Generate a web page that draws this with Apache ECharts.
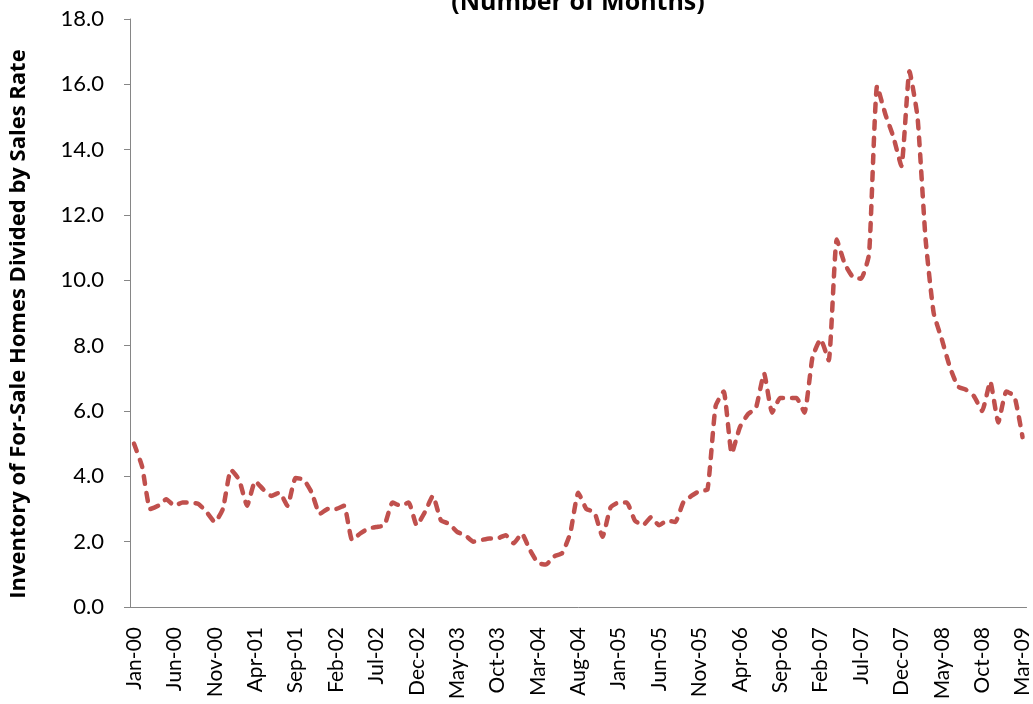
<!DOCTYPE html>
<html>
<head>
<meta charset="utf-8">
<script src="https://cdn.jsdelivr.net/npm/echarts@6/dist/echarts.min.js"></script>
<style>
  html, body { margin: 0; padding: 0; background: #fff; }
  #chart { width: 1033px; height: 704px; }
</style>
</head>
<body>
<div id="chart"></div>
<script>
// month labels, Jan-00 .. Mar-09
const monthNames = ['Jan', 'Feb', 'Mar', 'Apr', 'May', 'Jun', 'Jul', 'Aug', 'Sep', 'Oct', 'Nov', 'Dec']
const years = ['00', '01', '02', '03', '04', '05', '06', '07', '08', '09']
const lastYearMonths = 3 // 2009 stops at Mar

// months' supply (inventory / sales rate)
const monthsSupply = [
  5.0, 4.3, 3.0, 3.1, 3.3, 3.1, 3.2, 3.2, 3.15, 2.9, 2.6, 3.0,
  4.2, 3.9, 3.1, 3.85, 3.6, 3.4, 3.5, 3.1, 3.95, 3.9, 3.5, 2.85,
  3.0, 3.0, 3.1, 2.05, 2.25, 2.4, 2.45, 2.5, 3.2, 3.1, 3.2, 2.5,
  2.9, 3.4, 2.65, 2.55, 2.3, 2.2, 2.0, 2.05, 2.1, 2.1, 2.2, 1.95,
  2.25, 1.75, 1.35, 1.3, 1.55, 1.65, 2.25, 3.5, 3.0, 2.9, 2.15, 3.05,
  3.2, 3.2, 2.65, 2.5, 2.75, 2.5, 2.65, 2.6, 3.2, 3.4, 3.55, 3.6,
  6.15, 6.6, 4.7, 5.5, 5.9, 6.1, 7.15, 5.95, 6.4, 6.4, 6.4, 5.95,
  7.65, 8.2, 7.55, 11.25, 10.5, 10.1, 10.05, 10.8, 15.95, 15.1, 14.4, 13.5,
  16.4, 15.0, 11.25, 9.0, 8.2, 7.35, 6.75, 6.65, 6.45, 6.0, 6.9, 5.65,
  6.6, 6.45, 5.2
]

const categories = []
years.forEach((yy, k) => {
  const n = k === years.length - 1 ? lastYearMonths : 12
  for (let m = 0; m < n; m++) categories.push(monthNames[m] + '-' + yy)
})

const font = 'Lato, "Open Sans", sans-serif'
const boldFont = '"Open Sans", Lato, sans-serif'
const axisGray = '#868686'

const chart = echarts.init(document.getElementById('chart'))
chart.setOption({
  animation: false,
  title: {
    text: '(Number of Months)',
    left: 573,
    textAlign: 'center',
    top: -15,
    textStyle: { fontFamily: boldFont, fontSize: 25, fontWeight: 'bold', color: '#000' }
  },
  grid: { left: 129, right: 2, top: 19, bottom: 97, containLabel: false },
  xAxis: {
    type: 'category',
    data: categories,
    boundaryGap: true,
    axisLine: { lineStyle: { color: axisGray, width: 1 } },
    axisTick: { interval: 4, length: 6, lineStyle: { color: axisGray } },
    axisLabel: {
      interval: 4,
      rotate: 90,
      margin: 20,
      fontFamily: font,
      fontSize: 21,
      color: '#000'
    },
    splitLine: { show: false }
  },
  yAxis: {
    type: 'value',
    min: 0,
    max: 18,
    interval: 2,
    name: 'Inventory of For-Sale Homes Divided by Sales Rate',
    nameLocation: 'middle',
    nameGap: 100,
    nameTextStyle: {
      fontFamily: boldFont,
      fontSize: 22,
      fontWeight: 'bold',
      color: '#000',
      padding: [0, 22, 0, 0]
    },
    axisLine: { show: true, lineStyle: { color: axisGray, width: 1 } },
    axisTick: { show: true, length: 6, lineStyle: { color: axisGray } },
    axisLabel: {
      margin: 26,
      fontFamily: font,
      fontSize: 22,
      color: '#000',
      formatter: v => v.toFixed(1)
    },
    splitLine: { show: false }
  },
  series: [
    {
      type: 'line',
      data: monthsSupply,
      symbol: 'none',
      smooth: 0.15,
      lineStyle: {
        color: '#C0504D',
        width: 4.5,
        type: [8, 9],
        cap: 'round',
        join: 'round'
      }
    }
  ]
})
</script>
</body>
</html>
